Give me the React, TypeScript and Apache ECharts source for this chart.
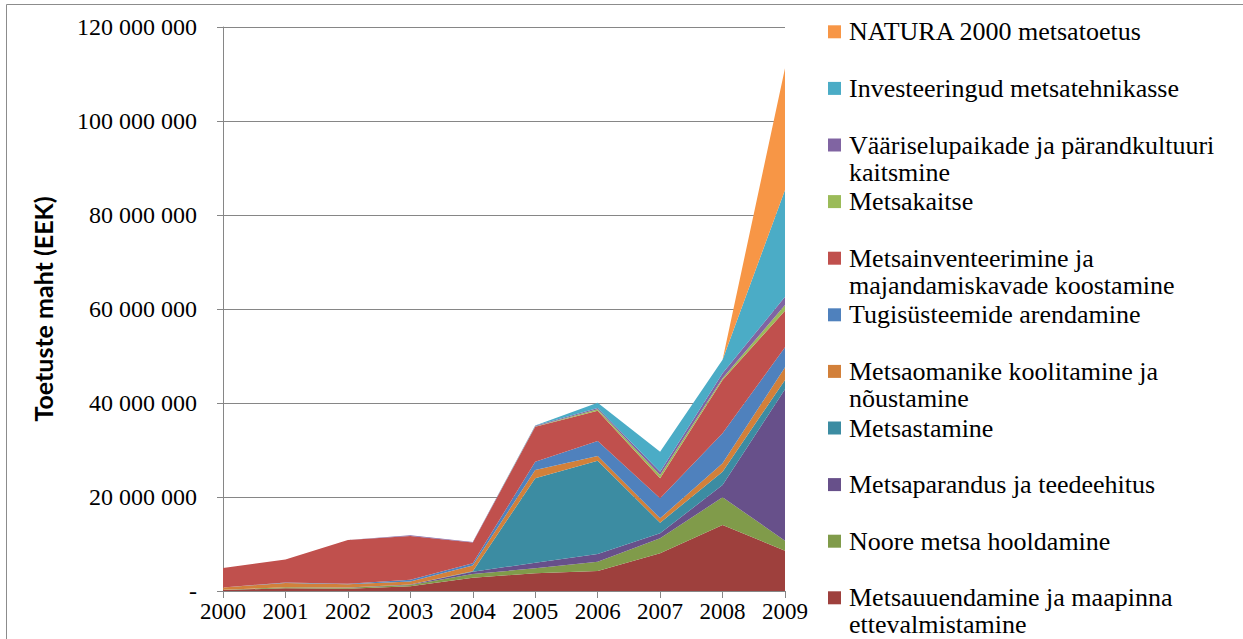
import React, { useEffect, useRef } from "react";
import * as echarts from "echarts";

const years = ["2000", "2001", "2002", "2003", "2004", "2005", "2006", "2007", "2008", "2009"];

// stacking order: bottom -> top
const seriesNames = [
  "Metsauuendamine ja maapinna\nettevalmistamine",
  "Noore metsa hooldamine",
  "Metsaparandus ja teedeehitus",
  "Metsastamine",
  "Metsaomanike koolitamine ja\nnõustamine",
  "Tugisüsteemide arendamine",
  "Metsainventeerimine ja\nmajandamiskavade koostamine",
  "Metsakaitse",
  "Vääriselupaikade ja pärandkultuuri\nkaitsmine",
  "Investeeringud metsatehnikasse",
  "NATURA 2000 metsatoetus",
];

const seriesColors = [
  "#9E403D",
  "#809B4A",
  "#67508A",
  "#3C8CA2",
  "#D2803A",
  "#4F81BD",
  "#C0504D",
  "#9BBB59",
  "#8064A2",
  "#4BACC6",
  "#F79646",
];

const metsauuendamine = [200000, 600000, 500000, 1000000, 2800000, 3770000, 4260000, 8020000, 14040000, 8570000];
const nooreMetsa = [50000, 200000, 200000, 300000, 800000, 1060000, 1970000, 3190000, 5900000, 2130000];
const metsaparandus = [0, 0, 50000, 100000, 500000, 1190000, 1640000, 1070000, 2610000, 32210000];
const metsastamine = [0, 0, 0, 0, 100000, 17960000, 19850000, 2250000, 2830000, 1980000];
const koolitamine = [500000, 900000, 700000, 600000, 1200000, 1760000, 1000000, 940000, 1790000, 2710000];
const tugisysteemid = [0, 100000, 100000, 400000, 500000, 1770000, 3190000, 4250000, 6380000, 4250000];
const inventeerimine = [4150000, 4900000, 9300000, 9300000, 4400000, 7450000, 6450000, 4260000, 11340000, 7790000];
const metsakaitse = [0, 0, 0, 0, 0, 50000, 300000, 700000, 370000, 1210000];
const vaariselupaigad = [0, 0, 0, 150000, 150000, 150000, 300000, 700000, 1060000, 1770000];
const investeeringud = [0, 0, 0, 0, 0, 50000, 1070000, 4260000, 2900000, 22700000];
const natura = [0, 0, 0, 0, 0, 0, 0, 0, 0, 25900000];

const seriesValues = [
  metsauuendamine,
  nooreMetsa,
  metsaparandus,
  metsastamine,
  koolitamine,
  tugisysteemid,
  inventeerimine,
  metsakaitse,
  vaariselupaigad,
  investeeringud,
  natura,
];

const yTitle = "Toetuste maht (EEK)";

function fmt(v: number): string {
  if (v === 0) return "-";
  return String(Math.round(v)).replace(/\B(?=(\d{3})+(?!\d))/g, " ");
}

export default function App() {
  const ref = useRef<HTMLDivElement>(null);
  useEffect(() => {
    if (!ref.current) return;
    const chart = echarts.init(ref.current, null, { renderer: "svg" });

    const serif = "Liberation Serif";
    const legendTop = 31.8;
    const legendStep = 56.6;
    const lh = 27;
    const legendEls: any[] = [];
    const n = seriesNames.length;
    for (let k = 0; k < n; k++) {
      const idx = n - 1 - k;
      const cy = legendTop + legendStep * k;
      legendEls.push({
        type: "rect",
        shape: { x: 828, y: cy - 6.5, width: 13, height: 13 },
        style: { fill: seriesColors[idx] },
        silent: true,
      });
      legendEls.push({
        type: "text",
        x: 849,
        y: cy - lh / 2,
        style: {
          text: seriesNames[idx],
          fill: "#000",
          fontFamily: serif,
          fontSize: 26,
          lineHeight: lh,
          verticalAlign: "top",
          align: "left",
        },
        silent: true,
      });
    }

    chart.setOption({
      animation: false,
      backgroundColor: "#fff",
      textStyle: { fontFamily: serif },
      grid: { left: 223, right: 458, top: 27, bottom: 48 },
      xAxis: {
        type: "category",
        data: years,
        boundaryGap: false,
        axisLine: { lineStyle: { color: "#868686", width: 1 } },
        axisTick: { show: true, length: 7, lineStyle: { color: "#868686" } },
        axisLabel: {
          color: "#000",
          fontFamily: serif,
          fontSize: 23,
          margin: 9,
        },
        splitLine: { show: false },
      },
      yAxis: {
        type: "value",
        min: 0,
        max: 120000000,
        interval: 20000000,
        name: yTitle,
        nameLocation: "middle",
        nameGap: 168,
        nameTextStyle: {
          color: "#000",
          fontFamily: "Lato",
          fontWeight: "bold",
          fontSize: 25,
        },
        axisLine: { show: true, lineStyle: { color: "#868686", width: 1 } },
        axisTick: { show: true, length: 6, lineStyle: { color: "#868686" } },
        axisLabel: {
          color: "#000",
          fontFamily: serif,
          fontSize: 24,
          margin: 26,
          formatter: (v: number) => fmt(v),
        },
        splitLine: { show: true, lineStyle: { color: "#868686", width: 1 } },
      },
      series: seriesNames.map((name, i) => ({
        name,
        type: "line",
        stack: "total",
        data: seriesValues[i],
        symbol: "none",
        showSymbol: false,
        lineStyle: { width: 0 },
        areaStyle: { color: seriesColors[i], opacity: 1 },
        itemStyle: { color: seriesColors[i] },
        emphasis: { disabled: true },
      })),
      graphic: [
        {
          type: "rect",
          shape: { x: 6.5, y: 4.5, width: 1400, height: 800 },
          style: { fill: "none", stroke: "#8c8c8c", lineWidth: 1 },
          silent: true,
          z: -1,
        },
        ...legendEls,
      ],
    });
    return () => chart.dispose();
  }, []);

  return (
    <div
      ref={ref}
      style={{ position: "fixed", left: 0, top: 0, width: 1243, height: 639 }}
    />
  );
}
